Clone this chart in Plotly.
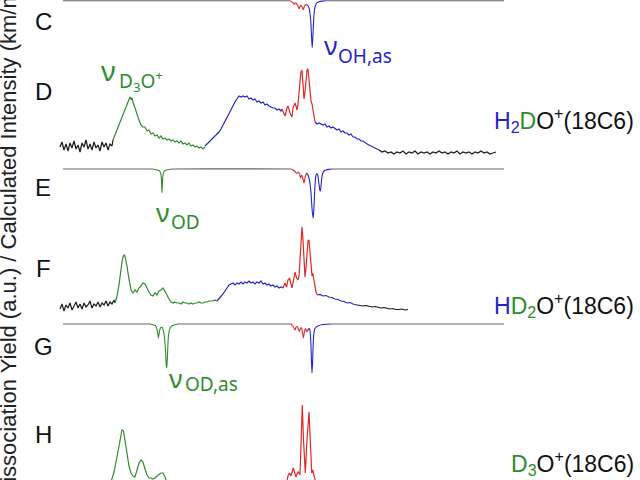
import plotly.graph_objects as go

# ---------------- data (wavenumber cm-1, intensity) ----------------
# C : calculated (plotted downward)
C_gray1_w = [1815, 2950]
C_gray1_i = [0, 0]
C_red_w = [2950, 2958, 2965, 2971, 2977, 2983, 2989, 2996, 3002, 3007, 3012, 3016, 3021, 3027, 3034]
C_red_i = [0, 1, 2, 3.5, 2, 3, 5, 8, 5, 5, 7, 9, 6, 4, 4]
C_blue_w = [3034, 3040, 3046, 3051, 3055, 3058, 3061, 3064, 3067, 3071, 3075, 3080, 3086, 3095, 3110, 3130]
C_blue_i = [4, 5, 8, 14, 24, 37, 47, 38, 24, 12, 6, 3.5, 2, 1, 0.4, 0]
C_gray2_w = [3130, 4020]
C_gray2_i = [0, 0]

# D : experimental H2DO+(18C6)
D_black1_w = [1800, 1810, 1820, 1830, 1840, 1850, 1860, 1870, 1880, 1890, 1900, 1910, 1920, 1930,
              1940, 1950, 1960, 1970, 1980, 1990, 2000, 2010, 2020, 2030, 2040, 2050, 2060, 2065]
D_black1_i = [8, 13, 5, 11, 4, 12, 7, 14, 6, 10, 3, 12, 8, 15, 6, 11, 5, 13, 7, 10, 4, 13, 8, 12, 5, 11, 9, 15]
D_green_w = [2065, 2075, 2085, 2095, 2105, 2115, 2125, 2135, 2145, 2150, 2155, 2160, 2165,
             2175, 2185, 2195, 2205, 2215, 2225, 2235, 2245, 2255, 2265, 2275, 2285, 2295, 2305,
             2315, 2325, 2335, 2345, 2355, 2365, 2375, 2385, 2395, 2405, 2415, 2425, 2435, 2445,
             2455, 2465, 2475, 2485, 2495, 2505, 2515, 2525]
D_green_i = [15, 20, 25, 29, 35, 41, 46, 51, 56, 58, 56, 57, 53,
             47, 39, 35, 30, 28, 28, 24, 25, 21, 22, 19, 20, 17, 19, 16, 17, 15, 16, 14, 15,
             13, 14, 12, 14, 11, 12, 10, 12, 9, 10, 8, 9, 7, 8, 6, 8]
D_blue1_w = [2525, 2535, 2545, 2555, 2565, 2575, 2585, 2595, 2605, 2615, 2625, 2635, 2645, 2655,
             2665, 2675, 2685, 2695, 2705, 2715, 2725, 2735, 2745, 2755, 2765, 2775, 2785, 2795,
             2805, 2815, 2825, 2835, 2845, 2855, 2865, 2875, 2885, 2895, 2905, 2910]
D_blue1_i = [9, 11, 13, 14, 17, 18, 21, 23, 26, 30, 33, 37, 42, 45, 50, 53, 56, 59, 58, 59,
             58, 59, 56, 57, 55, 56, 53, 54, 52, 53, 50, 51, 49, 48, 47, 47, 45, 46, 44, 46]
D_red_w = [2910, 2920, 2925, 2935, 2940, 2950, 2960, 2965, 2975, 2980, 2985, 2990, 2995, 3000,
           3005, 3010, 3015, 3020, 3025, 3030, 3035, 3040, 3045, 3050, 3055, 3060, 3065, 3070, 3075]
D_red_i = [46, 41, 39, 47, 49, 42, 38, 47, 52, 49, 45, 51, 59, 73, 83, 85, 71, 56, 63, 77,
           85, 86, 75, 58, 54, 51, 43, 37, 33]
D_blue2_w = [3075, 3085, 3095, 3105, 3115, 3125, 3135, 3145, 3155, 3165, 3175, 3185, 3195, 3205,
             3215, 3225, 3235, 3245, 3255, 3265, 3275, 3285, 3295, 3305, 3315, 3325, 3335, 3345,
             3355, 3365, 3375, 3385, 3395]
D_blue2_i = [33, 31, 32, 31, 30, 31, 28, 29, 27, 28, 26, 25, 26, 23, 24, 22, 22, 20, 21, 18,
             18, 16, 16, 14, 14, 12, 11, 10, 9, 8, 7, 6, 5]
D_black2_w = [3395, 3410, 3425, 3440, 3455, 3470, 3485, 3500, 3515, 3530, 3545, 3560, 3575, 3590,
              3605, 3620, 3635, 3650, 3665, 3680, 3695, 3710, 3725, 3740, 3755, 3770, 3785, 3800,
              3815, 3830, 3845, 3860, 3875, 3890, 3905, 3920, 3935, 3950, 3965, 3980]
D_black2_i = [5, 3, 4, 2, 3, 1, 3, 2, 4, 1, 3, 2, 4, 1, 3, 2, 3, 1, 3, 2,
              4, 2, 3, 1, 3, 2, 4, 1, 3, 2, 3, 1, 3, 2, 4, 2, 3, 1, 2, 3]

# E : calculated
E_gray1_w = [1815, 2265]
E_gray1_i = [0, 0]
E_green_w = [2265, 2280, 2295, 2300, 2305, 2307.5, 2310, 2312.5, 2315, 2320, 2325, 2335]
E_green_i = [0.3, 0.7, 1.5, 2.5, 6, 12, 24, 12, 6, 2.5, 1.5, 0.7]
E_gray2_w = [2335, 2350, 2370, 2955]
E_gray2_i = [0.7, 0.3, 0, 0]
E_red_w = [2955, 2965, 2975, 2983, 2991, 2998, 3003, 3008, 3014, 3020, 3026, 3033]
E_red_i = [0, 1, 2.5, 4.5, 3, 5, 9, 6, 9, 14, 8, 4]
E_blue_w = [3033, 3040, 3046, 3051, 3055, 3058, 3062, 3066, 3070, 3074, 3078, 3082, 3087, 3091,
            3095, 3099, 3102, 3105, 3109, 3114, 3120, 3130, 3145, 3160]
E_blue_i = [4, 6, 10, 16, 24, 33, 44, 49, 38, 20, 9, 5, 5, 9, 15, 21, 22, 17, 9, 4, 2, 1, 0.4, 0]
E_gray3_w = [3160, 4020]
E_gray3_i = [0, 0]

# F : experimental HD2O+(18C6)
F_black1_w = [1800, 1810, 1820, 1830, 1840, 1850, 1860, 1870, 1880, 1890, 1900, 1910, 1920, 1930,
              1940, 1950, 1960, 1970, 1980, 1990, 2000, 2010, 2020, 2030, 2040, 2050, 2060, 2070, 2075]
F_black1_i = [4, 9, 2, 8, 5, 10, 3, 7, 11, 5, 9, 4, 10, 6, 8, 12, 5, 9, 7, 11,
              6, 10, 8, 12, 7, 11, 9, 13, 10]
F_green_w = [2075, 2085, 2095, 2100, 2105, 2110, 2115, 2120, 2125, 2130, 2135, 2140, 2145, 2150, 2155,
             2165, 2175, 2185, 2195, 2205, 2215, 2225, 2235, 2245, 2255, 2265, 2275, 2285, 2295,
             2305, 2315, 2325, 2335, 2345, 2355, 2365, 2375, 2385, 2395, 2405, 2415, 2425, 2435,
             2445, 2455, 2465, 2475, 2485, 2495, 2505, 2515, 2525, 2535, 2545, 2555, 2565, 2575, 2585]
F_green_i = [10, 17, 28, 37, 45, 51, 56, 58, 57, 53, 47, 40, 33, 27, 23,
             20, 23, 21, 25, 27, 30, 29, 24, 21, 18, 17, 20, 18, 22, 23,
             25, 22, 18, 14, 11, 10, 11, 10, 10, 9, 11, 10, 10, 9, 10,
             9, 10, 10, 11, 10, 10, 11, 11, 12, 12, 12, 13, 12]
F_blue1_w = [2585, 2595, 2605, 2615, 2625, 2635, 2645, 2655, 2665, 2675, 2685, 2695, 2705, 2715,
             2725, 2735, 2745, 2755, 2765, 2775, 2785, 2795, 2805, 2815, 2825, 2835, 2845, 2855,
             2865, 2875, 2885, 2895, 2905, 2915]
F_blue1_i = [12, 14, 16, 19, 22, 25, 28, 29, 30, 28, 30, 29, 31, 29, 31, 30, 32, 30, 31, 29,
             31, 30, 32, 29, 30, 28, 29, 27, 28, 26, 27, 25, 26, 25]
F_red_w = [2915, 2925, 2932.5, 2940, 2947.5, 2955, 2960, 2967.5, 2975, 2982.5, 2990, 2995, 3000,
           3005, 3010, 3015, 3020, 3025, 3030, 3035, 3040, 3045, 3050, 3055, 3060, 3063.5, 3070,
           3075, 3080, 3086.5]
F_red_i = [25, 30, 26, 33, 35, 29, 25, 33, 41, 35, 33, 37, 51, 73, 86, 73, 51, 36, 45, 61,
           72, 73, 61, 41, 37, 40, 31, 26, 21, 18]
F_blue2_w = [3086.5, 3100, 3115, 3130, 3145, 3160, 3175, 3190, 3205, 3220, 3235, 3250, 3265, 3285]
F_blue2_i = [18, 18.5, 17, 17.5, 16, 15.5, 14, 13.5, 12, 11.5, 10, 10.5, 9, 8]
F_black2_w = [3285, 3300, 3315, 3330, 3345, 3360, 3375, 3390, 3405, 3420, 3435, 3450, 3465, 3480,
              3495, 3510, 3525, 3540]
F_black2_i = [8, 7.5, 7, 7.5, 6.5, 6, 6.5, 5.5, 5, 5.5, 4.5, 4, 4.5, 3.5, 3.5, 4, 3, 3.5]

# G : calculated
G_gray1_w = [1815, 2250]
G_gray1_i = [0, 0]
G_green_w = [2250, 2265, 2275, 2281, 2286, 2290, 2292, 2296, 2300, 2305, 2311, 2316, 2320, 2324,
             2328, 2331, 2334, 2337, 2341, 2346, 2352, 2362, 2375, 2390]
G_green_i = [0, 0.7, 1.5, 3, 6, 11, 14, 9, 5, 3.5, 3.5, 6, 10, 17, 28, 40, 44, 33, 15, 7,
             3.5, 1.5, 0.7, 0]
G_gray2_w = [2390, 2955]
G_gray2_i = [0, 0]
G_red_w = [2955, 2962, 2968, 2975, 2981, 2986, 2992, 2997, 3003, 3008, 3012, 3017, 3022, 3027,
           3031, 3035, 3040]
G_red_i = [0, 1.5, 3, 6, 3, 2.5, 5, 7.5, 4, 4, 8, 14, 8, 4.5, 6, 8, 6]
G_blue_w = [3040, 3044, 3048, 3051, 3054, 3057, 3060, 3063, 3066, 3069, 3073, 3078, 3085, 3095,
            3110, 3130, 3150]
G_blue_i = [6, 4.5, 5, 8, 17, 35, 49, 38, 20, 10, 5.5, 3.5, 2.5, 1.5, 0.8, 0.3, 0]
G_gray3_w = [3150, 4020]
G_gray3_i = [0, 0]

# H : experimental D3O+(18C6) (partly outside the crop)
H_green_w = [2040, 2050, 2060, 2070, 2080, 2090, 2100, 2110, 2117.5, 2125, 2135, 2145, 2155, 2165,
             2175, 2185, 2195, 2205, 2215, 2225, 2235, 2245, 2255, 2265, 2275, 2285, 2295, 2305,
             2315, 2325, 2335, 2350, 2375]
H_green_i = [3, 9, 15, 23, 33, 45, 57, 65, 64, 55, 40, 29, 22, 19, 18, 24, 32, 35, 33, 26,
             20, 17, 17, 16, 17, 19, 21, 22, 22, 18, 12, 5, 0]
H_red_w = [2925, 2932.5, 2940, 2946.5, 2955, 2966.5, 2975, 2980, 2985, 2991.5, 3000, 3005, 3011.5,
           3017.5, 3026.5, 3035, 3045, 3052.5, 3058.5, 3063.5, 3071.5, 3080, 3090]
H_red_i = [5, 13, 19, 22, 19, 27, 21, 18, 21, 23, 20, 55, 90, 55, 22, 55, 83, 50, 22, 25, 17, 11, 3]

# ---------------- styling / layout ----------------
BLACK = "#1a1a1a"
GREEN = "#2e8b2e"
BLUE = "#2525c8"
RED = "#e02828"
GRAY = "#666666"

# vertical offsets of each stacked trace (axis units)
OFF = {"C": 479.3, "D": 325, "E": 311, "F": 167, "G": 156, "H": -15}

fig = go.Figure()


def add(ws, ints, color, panel, calc=False):
    off = OFF[panel]
    ys = [off - v for v in ints] if calc else [off + v for v in ints]
    fig.add_trace(go.Scatter(
        x=ws, y=ys, mode="lines",
        line=dict(color=color, width=1.1 if calc else 1.2,
                  shape="spline" if calc else "linear", smoothing=0.6 if calc else None),
        hoverinfo="skip", showlegend=False))


# C
add(C_gray1_w, C_gray1_i, GRAY, "C", True)
add(C_red_w, C_red_i, RED, "C", True)
add(C_blue_w, C_blue_i, BLUE, "C", True)
add(C_gray2_w, C_gray2_i, GRAY, "C", True)
# D
add(D_black1_w, D_black1_i, BLACK, "D")
add(D_green_w, D_green_i, GREEN, "D")
add(D_blue1_w, D_blue1_i, BLUE, "D")
add(D_red_w, D_red_i, RED, "D")
add(D_blue2_w, D_blue2_i, BLUE, "D")
add(D_black2_w, D_black2_i, BLACK, "D")
# E
add(E_gray1_w, E_gray1_i, GRAY, "E", True)
add(E_green_w, E_green_i, GREEN, "E", True)
add(E_gray2_w, E_gray2_i, GRAY, "E", True)
add(E_red_w, E_red_i, RED, "E", True)
add(E_blue_w, E_blue_i, BLUE, "E", True)
add(E_gray3_w, E_gray3_i, GRAY, "E", True)
# F
add(F_black1_w, F_black1_i, BLACK, "F")
add(F_green_w, F_green_i, GREEN, "F")
add(F_blue1_w, F_blue1_i, BLUE, "F")
add(F_red_w, F_red_i, RED, "F")
add(F_blue2_w, F_blue2_i, BLUE, "F")
add(F_black2_w, F_black2_i, BLACK, "F")
# G
add(G_gray1_w, G_gray1_i, GRAY, "G", True)
add(G_green_w, G_green_i, GREEN, "G", True)
add(G_gray2_w, G_gray2_i, GRAY, "G", True)
add(G_red_w, G_red_i, RED, "G", True)
add(G_blue_w, G_blue_i, BLUE, "G", True)
add(G_gray3_w, G_gray3_i, GRAY, "G", True)
# H
add(H_green_w, H_green_i, GREEN, "H")
add(H_red_w, H_red_i, RED, "H")

W, H = 640, 480
SANS = "Liberation Sans, Arial, sans-serif"
NU = "Noto Sans, DejaVu Sans, sans-serif"


def ann(text, px, py, size, color="#111", font=SANS, xanchor="center", yanchor="middle", angle=0):
    fig.add_annotation(text=text, x=px / W, y=1 - py / H, xref="paper", yref="paper",
                       xanchor=xanchor, yanchor=yanchor, showarrow=False, textangle=angle,
                       font=dict(family=font, size=size, color=color))


# panel letters
for letter, py in [("C", 21.5), ("D", 91.5), ("E", 187.5), ("F", 268.5), ("G", 346.5), ("H", 434)]:
    ann(letter, 43, py, 24)

# species labels
ann(f"<span style='color:{BLUE}'>H<sub>2</sub></span><span style='color:{GREEN}'>D</span>O<sup>+</sup>(18C6)",
    636, 120.5, 23, xanchor="right")
ann(f"<span style='color:{BLUE}'>H</span><span style='color:{GREEN}'>D<sub>2</sub></span>O<sup>+</sup>(18C6)",
    636, 305, 23, xanchor="right")
ann(f"<span style='color:{GREEN}'>D<sub>3</sub></span>O<sup>+</sup>(18C6)",
    636, 463, 23, xanchor="right")

# mode labels: nu glyph and subscript placed separately
ann("ν", 99, 80 - 10.5, 28, GREEN, NU, xanchor="left")
ann("D<sub>3</sub>O<sup>+</sup>", 117, 88 - 7.2, 19, GREEN, NU, xanchor="left")
ann("ν", 322, 55 - 10, 26, BLUE, NU, xanchor="left")
ann("OH,as", 336, 63 - 7.4, 19, BLUE, NU, xanchor="left")
ann("ν", 154, 222 - 10, 26, GREEN, NU, xanchor="left")
ann("OD", 169, 229 - 7.4, 19, GREEN, NU, xanchor="left")
ann("ν", 167, 388 - 10, 26, GREEN, NU, xanchor="left")
ann("OD,as", 183, 391 - 7.4, 19, GREEN, NU, xanchor="left")

# y-axis title (cropped by the figure edges)
ann("Photodissociation Yield (a.u.) / Calculated Intensity (km/mol)", 7.5, 259, 22, "#222",
    angle=-90)

fig.update_xaxes(range=[1500, 4700], visible=False)
fig.update_yaxes(range=[0, 480], visible=False)
fig.update_layout(width=W, height=H, margin=dict(l=0, r=0, t=0, b=0),
                  paper_bgcolor="white", plot_bgcolor="white", showlegend=False)

fig.write_html("out.html", config={"displayModeBar": False},
               post_script="document.body.style.margin='0';")
